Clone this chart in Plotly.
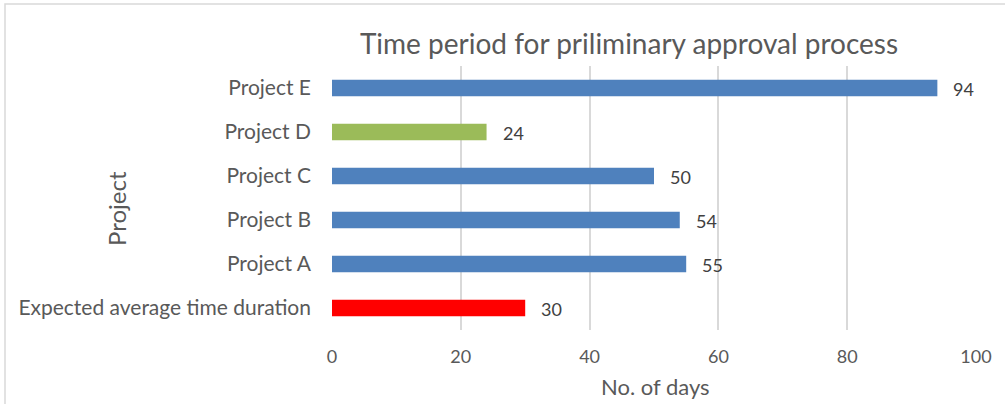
import plotly.graph_objects as go

categories = ["Expected average time duration", "Project A", "Project B", "Project C", "Project D", "Project E"]
values = [30, 55, 54, 50, 24, 94]
colors = ["#FF0000", "#4F81BD", "#4F81BD", "#4F81BD", "#9BBB59", "#4F81BD"]
x_ticks = [0, 20, 40, 60, 80, 100]

title_text = "Time period for priliminary approval process"
x_title = "No. of days"
y_title = "Project"

W, H = 1005, 404
L, R, T, B = 332, 29, 66, 74
pw = W - L - R
ph = H - T - B

FONT = "Lato, 'Open Sans', sans-serif"

fig = go.Figure()
fig.add_trace(go.Bar(
    x=values, y=categories, orientation="h",
    marker=dict(color=colors, line=dict(width=0)),
    hoverinfo="x+y",
))

for c, v in zip(categories, values):
    fig.add_annotation(x=v, y=c, xref="x", yref="y", text=str(v),
                       showarrow=False, xanchor="left", xshift=14, yshift=-1,
                       font=dict(family=FONT, size=18, color="#404040"))

fig.add_annotation(x=(116 - L) / pw, y=(T + ph - 208) / ph, xref="paper", yref="paper",
                   text=y_title, textangle=-90, showarrow=False,
                   xanchor="center", yanchor="middle",
                   font=dict(family=FONT, size=24, color="#595959"))
fig.add_annotation(x=(655 - L) / pw, y=-(386 - (T + ph)) / ph, xref="paper", yref="paper",
                   text=x_title, showarrow=False, xanchor="center", yanchor="middle",
                   font=dict(family=FONT, size=22, color="#595959"))

fig.add_shape(type="rect", xref="paper", yref="paper",
              x0=(5 - L) / pw, x1=(1010 - L) / pw,
              y0=-(410 - (T + ph)) / ph, y1=1 + (T - 4) / ph,
              line=dict(color="#D9D9D9", width=1.5), layer="below")

fig.update_layout(
    width=W, height=H,
    margin=dict(l=L, r=R, t=T, b=B),
    paper_bgcolor="white", plot_bgcolor="white",
    showlegend=False,
    bargap=0.63,
    title=dict(text=title_text, x=(629 - L) / pw, xref="paper", xanchor="center",
               y=1 - 44 / H, yanchor="middle",
               font=dict(family=FONT, size=28, color="#595959")),
    xaxis=dict(range=[0, 100], tickvals=x_ticks, showgrid=True, gridcolor="#D9D9D9",
               gridwidth=1.5, zeroline=False, showline=False, ticks="",
               ticklabelstandoff=14,
               tickfont=dict(family=FONT, size=18, color="#595959")),
    yaxis=dict(categoryorder="array", categoryarray=categories, showgrid=False,
               zeroline=False, showline=False, ticks="", ticklabelstandoff=20,
               tickfont=dict(family=FONT, size=21, color="#595959")),
)

fig.write_html("out.html")
